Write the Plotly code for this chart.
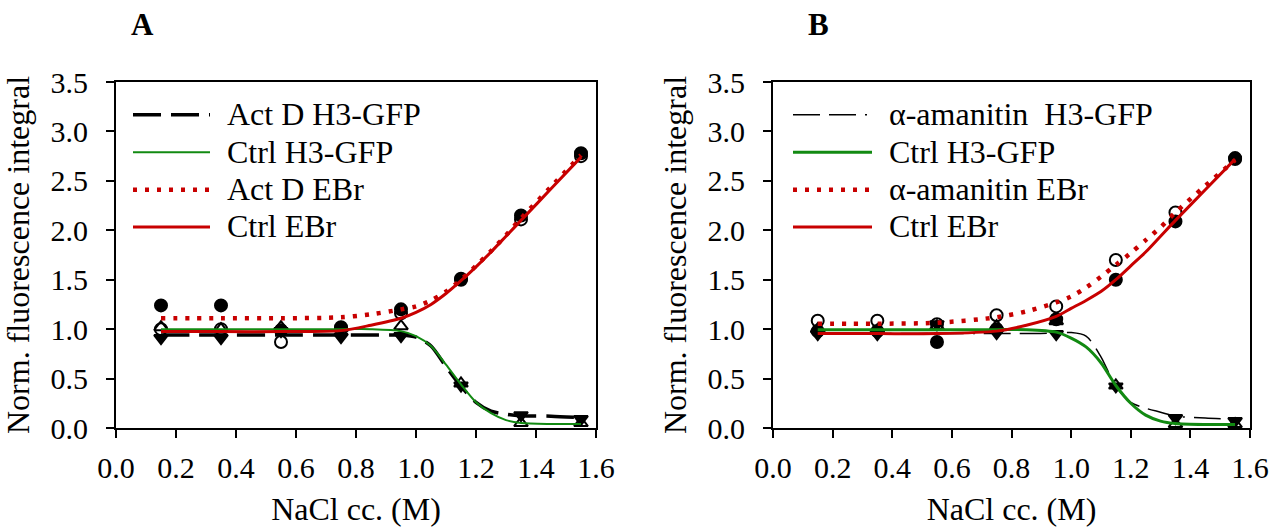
import plotly.graph_objects as go

# ---------------- data ----------------
nacl = [0.15, 0.35, 0.55, 0.75, 0.95, 1.15, 1.35, 1.55]

# Panel A measured points
a_actd_h3 = [0.91, 0.91, 0.98, 0.92, 0.93, 0.43, 0.13, 0.09]
a_ctrl_h3 = [1.02, 1.00, 1.02, 1.01, 1.03, 0.45, 0.05, 0.05]
a_actd_ebr = [1.24, 1.24, 0.99, 1.02, 1.20, 1.51, 2.15, 2.78]
a_ctrl_ebr = [1.00, 1.00, 0.87, 1.00, 1.16, 1.50, 2.11, 2.75]

# Panel B measured points
b_ama_h3 = [0.95, 0.95, 1.05, 0.96, 0.95, 0.42, 0.10, 0.07]
b_ctrl_h3 = [1.00, 0.99, 1.03, 1.03, 1.08, 0.43, 0.04, 0.04]
b_ama_ebr = [1.085, 1.085, 1.05, 1.14, 1.23, 1.70, 2.18, 2.73]
b_ctrl_ebr = [0.98, 0.98, 0.87, 1.00, 1.10, 1.50, 2.09, 2.72]

# fitted curves
fit_x = [0.15, 0.35, 0.55, 0.75, 0.85, 0.95, 1.0, 1.05, 1.1, 1.15, 1.2, 1.25, 1.3, 1.35, 1.45, 1.55]
fa_actd_h3 = [0.94, 0.94, 0.94, 0.94, 0.94, 0.94, 0.92, 0.83, 0.62, 0.42, 0.26, 0.17, 0.14, 0.125, 0.12, 0.105]
fa_ctrl_h3 = [1.0, 1.0, 1.0, 1.0, 1.0, 0.98, 0.93, 0.83, 0.64, 0.44, 0.26, 0.15, 0.08, 0.05, 0.04, 0.04]
fa_actd_ebr = [1.11, 1.11, 1.11, 1.12, 1.15, 1.2, 1.23, 1.29, 1.38, 1.5, 1.64, 1.79, 1.95, 2.12, 2.44, 2.76]
fa_ctrl_ebr = [0.975, 0.975, 0.975, 0.985, 1.04, 1.11, 1.17, 1.25, 1.36, 1.49, 1.63, 1.78, 1.94, 2.10, 2.42, 2.74]

fb_ama_h3 = [0.955, 0.955, 0.955, 0.955, 0.955, 0.96, 0.965, 0.93, 0.72, 0.42, 0.26, 0.20, 0.16, 0.12, 0.10, 0.09]
fb_ctrl_h3 = [0.995, 0.995, 0.995, 0.995, 0.995, 0.97, 0.91, 0.82, 0.66, 0.43, 0.25, 0.13, 0.07, 0.045, 0.035, 0.035]
fb_ama_ebr = [1.055, 1.055, 1.065, 1.12, 1.18, 1.27, 1.33, 1.42, 1.53, 1.65, 1.77, 1.90, 2.03, 2.18, 2.45, 2.71]
fb_ctrl_ebr = [0.955, 0.955, 0.955, 0.98, 1.04, 1.13, 1.21, 1.29, 1.38, 1.5, 1.64, 1.78, 1.94, 2.10, 2.41, 2.72]

x_ticks = [0.0, 0.2, 0.4, 0.6, 0.8, 1.0, 1.2, 1.4, 1.6]
y_ticks = [0.0, 0.5, 1.0, 1.5, 2.0, 2.5, 3.0, 3.5]

legend_a = ["Act D H3-GFP", "Ctrl H3-GFP", "Act D EBr", "Ctrl EBr"]
legend_b = ["α-amanitin  H3-GFP", "Ctrl H3-GFP", "α-amanitin EBr", "Ctrl EBr"]

# ---------------- style ----------------
RED = "#c80000"
GREEN = "#128a12"
FONT = "Liberation Serif"
TICK_FS = 30
TITLE_FS = 32
LEG_FS = 32
LEG_ROW_FS = 26.5  # controls legend row spacing

fig = go.Figure()


def markers(x, y, symbol, xa, ya):
    fig.add_trace(go.Scatter(
        x=x, y=y, mode="markers", xaxis=xa, yaxis=ya, showlegend=False,
        marker=dict(symbol=symbol, size=12, color="black",
                    line=dict(color="black", width=2)),
        hoverinfo="skip"))


def curve(x, y, name, color, width, dash, xa, ya, legend):
    label = "\u00a0\u2009<span style='font-size:%dpx'>%s</span>" % (LEG_FS, name)
    fig.add_trace(go.Scatter(
        x=x, y=y, mode="lines", name=label, xaxis=xa, yaxis=ya,
        line=dict(color=color, width=width, dash=dash, shape="spline", smoothing=0.8),
        legend=legend))


# Panel A
markers(nacl, a_actd_ebr, "circle", "x", "y")
markers(nacl, a_ctrl_ebr, "circle-open", "x", "y")
markers(nacl, a_actd_h3, "triangle-down", "x", "y")
markers(nacl, a_ctrl_h3, "triangle-up-open", "x", "y")
curve(fit_x, fa_actd_h3, legend_a[0], "black", 3.5, "28px,10px", "x", "y", "legend")
curve(fit_x, fa_ctrl_h3, legend_a[1], GREEN, 2, "solid", "x", "y", "legend")
curve(fit_x, fa_actd_ebr, legend_a[2], RED, 4.5, "4px,8px", "x", "y", "legend")
curve(fit_x, fa_ctrl_ebr, legend_a[3], RED, 3, "solid", "x", "y", "legend")

# Panel B
markers(nacl, b_ama_ebr, "circle-open", "x2", "y2")
markers(nacl, b_ctrl_ebr, "circle", "x2", "y2")
markers(nacl, b_ama_h3, "triangle-down", "x2", "y2")
markers(nacl, b_ctrl_h3, "triangle-up-open", "x2", "y2")
curve(fit_x, fb_ama_h3, legend_b[0], "black", 1.5, "27px,9px,27px,9px,2px,9px", "x2", "y2", "legend2")
curve(fit_x, fb_ctrl_h3, legend_b[1], GREEN, 3, "solid", "x2", "y2", "legend2")
curve(fit_x, fb_ama_ebr, legend_b[2], RED, 4.5, "4px,8px", "x2", "y2", "legend2")
curve(fit_x, fb_ctrl_ebr, legend_b[3], RED, 3, "solid", "x2", "y2", "legend2")

W, H = 1273, 527
axis_common = dict(showline=True, linecolor="black", linewidth=2, mirror=True,
                   ticks="outside", ticklen=8, tickwidth=2, tickcolor="black",
                   showgrid=False, zeroline=False, automargin=False,
                   tickfont=dict(family=FONT, size=TICK_FS, color="black"))

xa = dict(axis_common, range=[0, 1.6], tickvals=x_ticks, tickformat=".1f", ticklabelstandoff=4,
          title=dict(text="NaCl cc. (M)", font=dict(family=FONT, size=TITLE_FS, color="black"), standoff=18))
ya = dict(axis_common, range=[0, 3.5], tickvals=y_ticks, tickformat=".1f", ticklabelstandoff=12,
          title=dict(text="Norm. fluorescence integral", font=dict(family=FONT, size=TITLE_FS, color="black"), standoff=11))

leg_common = dict(font=dict(family=FONT, size=LEG_ROW_FS, color="black"), bgcolor="rgba(0,0,0,0)",
                  borderwidth=0, tracegroupgap=0, xanchor="left", yanchor="top")

PT = 82  # plot top px
PH = 346  # plot height px

fig.update_layout(
    width=W, height=H,
    margin=dict(l=0, r=0, t=PT, b=H - PT - PH, autoexpand=False),
    plot_bgcolor="white", paper_bgcolor="white",
    xaxis=dict(xa, domain=[116 / W, 596 / W], anchor="y"),
    yaxis=dict(ya, domain=[0, 1], anchor="x"),
    xaxis2=dict(xa, domain=[773 / W, 1250 / W], anchor="y2"),
    yaxis2=dict(ya, domain=[0, 1], anchor="x2"),
    legend=dict(leg_common, x=128 / W, y=1 - 9 / PH, itemwidth=77),
    legend2=dict(leg_common, x=788 / W, y=1 - 9 / PH, itemwidth=79),
    showlegend=True,
    annotations=[
        dict(text="<b>A</b>", x=142 / W, y=1 + (PT - 24) / PH, xref="paper", yref="paper",
             showarrow=False, xanchor="center", yanchor="middle",
             font=dict(family=FONT, size=31, color="black")),
        dict(text="<b>B</b>", x=818 / W, y=1 + (PT - 24) / PH, xref="paper", yref="paper",
             showarrow=False, xanchor="center", yanchor="middle",
             font=dict(family=FONT, size=31, color="black")),
    ],
)

fig.write_html("out.html", config={"displayModeBar": False},
               post_script="document.body.style.margin='0px';")
